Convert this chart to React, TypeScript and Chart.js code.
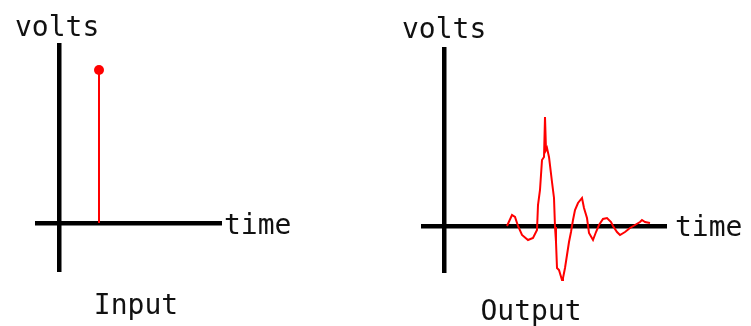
import React, { useEffect, useRef } from "react";
import { Chart, registerables } from "chart.js";

Chart.register(...registerables);

// ---- data ----
const inputTime = [4.0, 4.0];
const inputVolts = [0, 15.3];

const outputTime = [
  6.3, 6.8, 7.1, 7.4, 7.8, 8.4, 8.9, 9.3, 9.4, 9.6, 9.8, 10.0, 10.1, 10.2, 10.3,
  10.5, 10.8, 11.0, 11.1, 11.2, 11.3, 11.5, 11.8, 11.9, 12.1, 12.3, 12.5, 12.7,
  12.9, 13.1, 13.4, 13.8, 14.0, 14.3, 14.5, 14.9, 15.2, 15.5, 15.9, 16.3, 16.7,
  16.9, 17.3, 17.6, 18.1, 18.6, 19.1, 19.6, 19.8, 20.1, 20.6,
];
const outputVolts = [
  0, 1.1, 0.9, 0, -0.9, -1.4, -1.2, -0.4, 2.1, 3.6, 6.6, 6.9, 10.9, 7.6, 7.8,
  6.9, 4.4, 2.8, -0.1, -1.6, -4.2, -4.4, -5.4, -5.2, -4.2, -2.9, -1.6, -0.6,
  0.6, 1.6, 2.3, 2.8, 1.8, 0.8, -0.7, -1.4, -0.6, 0.1, 0.7, 0.8, 0.4, 0, -0.6,
  -0.9, -0.6, -0.2, 0.1, 0.4, 0.6, 0.4, 0.3,
];

const yAxisLabel = "volts";
const xAxisLabel = "time";
const panelTitles = ["Input", "Output"];

const FONT = '28px "DejaVu Sans Mono", "Liberation Mono", monospace';

const labelPlugin = {
  id: "panelLabels",
  afterDraw(chart: any, _args: any, opts: any) {
    const { ctx, chartArea, scales } = chart;
    const y0 = scales.y.getPixelForValue(0);
    ctx.save();
    ctx.font = FONT;
    ctx.fillStyle = "#111";
    ctx.textBaseline = "alphabetic";
    ctx.textAlign = "left";
    ctx.fillText(opts.yLabel, chartArea.left + opts.yLabelDx, opts.yLabelY);
    ctx.fillText(opts.xLabel, chartArea.right + opts.xLabelDx, y0 + opts.xLabelDy);
    ctx.textAlign = "center";
    ctx.fillText(opts.title, opts.titleX, opts.titleY);
    ctx.restore();
  },
};

function axisScale(min: number, max: number, horizontal: boolean) {
  return {
    type: "linear",
    min,
    max,
    z: 1,
    afterBuildTicks: (s: any) => {
      s.ticks = [{ value: 0 }];
    },
    afterFit: (s: any) => {
      if (horizontal) s.height = 0;
      else s.width = 0;
    },
    ticks: { display: false },
    border: { display: false },
    grid: { color: "#000", lineWidth: 4.5, drawTicks: false },
  };
}

function makeChart(canvas: HTMLCanvasElement, cfg: any) {
  return new Chart(canvas, {
    type: "line",
    data: {
      datasets: [
        {
          data: cfg.time.map((t: number, i: number) => ({ x: t, y: cfg.volts[i] })),
          borderColor: "#ff0000",
          backgroundColor: "#ff0000",
          borderWidth: 2,
          tension: 0,
          pointRadius: cfg.pointRadius,
          pointHoverRadius: 0,
          pointBorderWidth: 0,
          fill: false,
          clip: false,
        } as any,
      ],
    },
    options: {
      responsive: false,
      animation: false,
      layout: { padding: cfg.padding },
      plugins: {
        legend: { display: false },
        tooltip: { enabled: false },
        title: { display: false },
        panelLabels: cfg.labels,
      } as any,
      scales: {
        x: axisScale(cfg.xMin, cfg.xMax, true),
        y: axisScale(cfg.yMin, cfg.yMax, false),
      } as any,
    },
    plugins: [labelPlugin as any],
  });
}

export default function App() {
  const leftRef = useRef<HTMLCanvasElement>(null);
  const rightRef = useRef<HTMLCanvasElement>(null);

  useEffect(() => {
    const left = makeChart(leftRef.current!, {
      time: inputTime,
      volts: inputVolts,
      pointRadius: [0, 5],
      xMin: -2.4,
      xMax: 16.3,
      yMin: -4.9,
      yMax: 18.0,
      padding: { left: 35, right: 153, top: 43, bottom: 54 },
      labels: {
        yLabel: yAxisLabel,
        xLabel: xAxisLabel,
        title: panelTitles[0],
        yLabelDx: -20,
        yLabelY: 36,
        xLabelDx: 2,
        xLabelDy: 11,
        titleX: 136,
        titleY: 314,
      },
    });
    const right = makeChart(rightRef.current!, {
      time: outputTime,
      volts: outputVolts,
      pointRadius: 0,
      xMin: -2.3,
      xMax: 22.3,
      yMin: -4.7,
      yMax: 17.9,
      padding: { left: 46, right: 84, top: 47, bottom: 53 },
      labels: {
        yLabel: yAxisLabel,
        xLabel: xAxisLabel,
        title: panelTitles[1],
        yLabelDx: -19,
        yLabelY: 38,
        xLabelDx: 8,
        xLabelDy: 10,
        titleX: 156,
        titleY: 320,
      },
    });
    return () => {
      left.destroy();
      right.destroy();
    };
  }, []);

  return (
    <div style={{ position: "absolute", left: 0, top: 0, width: 751, height: 326, background: "#fff" }}>
      <canvas ref={leftRef} width={375} height={326} style={{ position: "absolute", left: 0, top: 0 }} />
      <canvas ref={rightRef} width={376} height={326} style={{ position: "absolute", left: 375, top: 0 }} />
    </div>
  );
}
